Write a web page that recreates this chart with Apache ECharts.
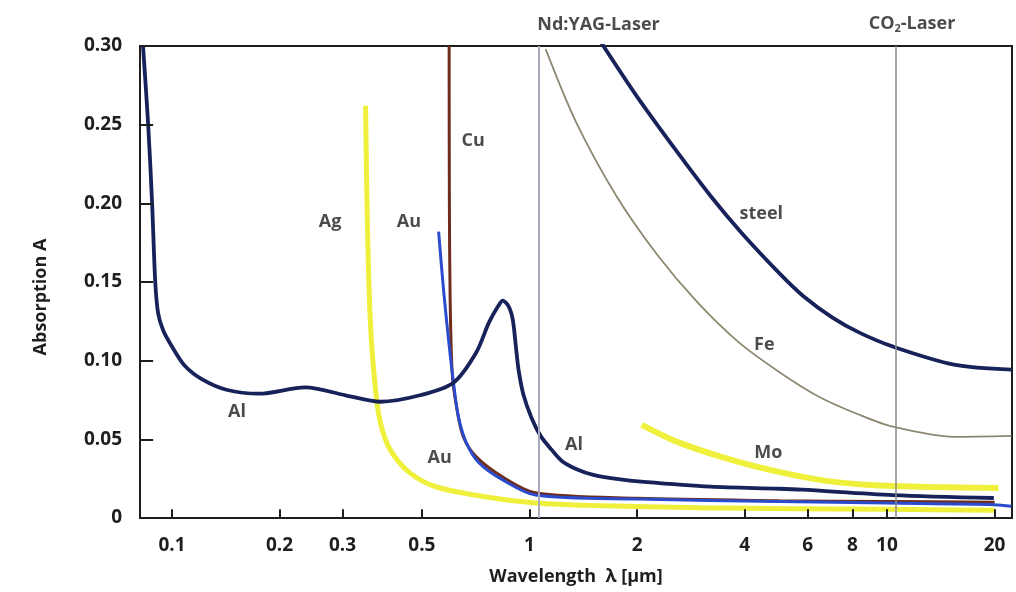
<!DOCTYPE html>
<html>
<head>
    <meta charset="utf-8">
    <script type="text/javascript" src="https://cdn.jsdelivr.net/npm/echarts@6.0.0/dist/echarts.min.js"></script>
</head>
<body style="margin: 0; background: #fff">
<div id="container" style="width: 1016px; height: 592px"></div>
<script type="text/javascript">
    // wavelength in µm, absorption A
    var wlAl = [0.083, 0.0858, 0.088, 0.0898, 0.0915, 0.0946, 0.1, 0.1086, 0.1219, 0.142, 0.175, 0.236, 0.306, 0.383, 0.494, 0.613, 0.709, 0.77, 0.816, 0.842, 0.875, 0.898, 0.915, 0.932, 0.962, 1.013, 1.074, 1.154, 1.232, 1.35, 1.508, 1.752, 2.09, 3.21, 4.98, 5.78, 10.4, 19.9];
    var absAl = [0.300, 0.25, 0.20, 0.15, 0.13, 0.119, 0.109, 0.0968, 0.0879, 0.0815, 0.079, 0.083, 0.078, 0.0739, 0.078, 0.086, 0.105, 0.1242, 0.1344, 0.1382, 0.1344, 0.1261, 0.1102, 0.0943, 0.0783, 0.0637, 0.0522, 0.0433, 0.0363, 0.0312, 0.0274, 0.0248, 0.0229, 0.0199, 0.0186, 0.018, 0.0146, 0.0127];

    var wlAg = [0.348, 0.352, 0.359, 0.371, 0.383, 0.408, 0.463, 0.55, 0.756, 1.04, 1.5, 3, 10, 20];
    var absAg = [0.262, 0.188, 0.124, 0.0815, 0.0605, 0.0433, 0.0287, 0.0197, 0.0134, 0.0096, 0.008, 0.0065, 0.0055, 0.005];

    var wlAu = [0.557, 0.575, 0.594, 0.613, 0.633, 0.666, 0.723, 0.842, 1.04, 2, 5, 10, 20, 22.3];
    var absAu = [0.182, 0.145, 0.113, 0.086, 0.0643, 0.0478, 0.035, 0.0242, 0.0146, 0.012, 0.0105, 0.0095, 0.0085, 0.0075];

    var wlCu = [0.596, 0.597, 0.6, 0.608, 0.625, 0.653, 0.709, 0.842, 1.04, 2, 5, 10, 20];
    var absCu = [0.30, 0.20, 0.139, 0.092, 0.0707, 0.0516, 0.039, 0.026, 0.016, 0.0125, 0.011, 0.0105, 0.010];

    var wlSteel = [1.589, 1.997, 2.592, 3.215, 3.91, 4.98, 5.85, 7.04, 8.37, 10.4, 15.4, 22.3];
    var absSteel = [0.302, 0.268, 0.2325, 0.2045, 0.1815, 0.156, 0.1408, 0.1274, 0.1178, 0.1089, 0.0975, 0.0943];

    var wlFe = [1.11, 1.35, 1.752, 2.274, 2.952, 3.83, 4.98, 6.45, 8.37, 10.4, 15.4, 22.3];
    var absFe = [0.298, 0.2516, 0.2045, 0.1675, 0.137, 0.1121, 0.093, 0.0771, 0.0656, 0.058, 0.0516, 0.0522];

    var wlMo = [2.06, 2.59, 3.59, 4.98, 6.77, 8.95, 13.25, 20.5];
    var absMo = [0.0592, 0.0484, 0.0376, 0.0293, 0.0236, 0.021, 0.0197, 0.0191];

    // laser wavelengths
    var laserNames = ['Nd:YAG-Laser', 'CO{sub|2}-Laser'];
    var laserWl = [1.06, 10.6];

    // curve labels
    var tagNames = ['Al', 'Ag', 'Au', 'Cu', 'Au', 'Al', 'steel', 'Fe', 'Mo'];
    var tagWl = [0.152, 0.277, 0.46, 0.696, 0.561, 1.332, 4.45, 4.54, 4.66];
    var tagAbs = [0.0675, 0.1885, 0.1885, 0.2395, 0.038, 0.0465, 0.193, 0.110, 0.0414];

    var xTicks = [0.1, 0.2, 0.3, 0.5, 1, 2, 4, 6, 8, 10, 20];
    var yTicks = [0.05, 0.10, 0.15, 0.20, 0.25, 0.30];
    var xMin = 0.0814, xMax = 22.37;

    function zip(xs, ys) {
        var out = [];
        for (var i = 0; i < xs.length; i++) {
            out.push([xs[i], ys[i]]);
        }
        return out;
    }

    var font = 'Open Sans';
    var ink = '#1e1e1e';

    function curve(name, xs, ys, color, width) {
        return {
            name: name,
            type: 'line',
            data: zip(xs, ys),
            smooth: 0.3,
            showSymbol: false,
            lineStyle: {color: color, width: width},
            silent: true
        };
    }

    // inward tick strokes, as short marker segments in data space
    var tickUp = 0.0056;     // about 9px of the y scale
    var tickRight = 1.088;   // about 13px of the log x scale (factor)
    var tickLines = [];
    xTicks.forEach(function (v) {
        tickLines.push([{coord: [v, 0]}, {coord: [v, tickUp]}]);
    });
    yTicks.forEach(function (v) {
        tickLines.push([{coord: [xMin, v]}, {coord: [xMin * tickRight, v]}]);
    });

    var tagData = [];
    for (var i = 0; i < tagNames.length; i++) {
        tagData.push({name: tagNames[i], value: [tagWl[i], tagAbs[i]]});
    }
    var laserData = [];
    for (var j = 0; j < laserWl.length; j++) {
        laserData.push({name: laserNames[j], value: [laserWl[j], 0.30]});
    }

    var myChart = echarts.init(document.getElementById('container'), null, {renderer: 'canvas'});

    var option = {
        animation: false,
        backgroundColor: '#fff',
        grid: {
            left: 140, right: 4, top: 46, bottom: 74,
            show: true, borderColor: ink, borderWidth: 2
        },
        xAxis: {
            type: 'log',
            min: xMin,
            max: xMax,
            name: 'Wavelength  λ [µm]',
            nameLocation: 'middle',
            nameGap: 50,
            nameTextStyle: {fontFamily: font, fontSize: 18, fontWeight: 'bold', color: ink},
            axisLine: {lineStyle: {color: ink, width: 2}},
            axisTick: {show: false},
            axisLabel: {
                customValues: xTicks,
                margin: 18,
                fontFamily: font, fontSize: 19, fontWeight: 'bold', color: ink,
                formatter: function (v) { return String(v); }
            },
            splitLine: {show: false},
            minorTick: {show: false}
        },
        yAxis: {
            type: 'value',
            min: 0,
            max: 0.30,
            interval: 0.05,
            name: 'Absorption A',
            nameLocation: 'middle',
            nameGap: 90,
            nameTextStyle: {fontFamily: font, fontSize: 18, fontWeight: 'bold', color: ink, padding: [0, 30, 0, 0]},
            axisLine: {show: true, lineStyle: {color: ink, width: 2}},
            axisTick: {show: false},
            axisLabel: {
                margin: 18,
                fontFamily: font, fontSize: 19, fontWeight: 'bold', color: ink,
                formatter: function (v) { return v === 0 ? '0' : v.toFixed(2); }
            },
            splitLine: {show: false}
        },
        series: [
            {
                name: 'lasers',
                type: 'line',
                data: [],
                silent: true,
                markLine: {
                    symbol: 'none',
                    silent: true,
                    label: {show: false},
                    data: [
                        {xAxis: laserWl[0], lineStyle: {color: '#a9a9bd', width: 2, type: 'solid'}},
                        {xAxis: laserWl[1], lineStyle: {color: '#8a8a8a', width: 1.5, type: 'solid'}}
                    ]
                }
            },
            curve('Ag', wlAg, absAg, '#eef03c', 5),
            curve('Mo', wlMo, absMo, '#eef03c', 6),
            curve('Fe', wlFe, absFe, '#8e8872', 1.8),
            curve('Cu', wlCu, absCu, '#6e2c1c', 3),
            curve('Au', wlAu, absAu, '#2a4ccc', 3),
            curve('Al', wlAl, absAl, '#17215a', 3.8),
            curve('steel', wlSteel, absSteel, '#17215a', 3.8),
            {
                name: 'ticks',
                type: 'line',
                data: [],
                silent: true,
                z: 10,
                markLine: {
                    symbol: 'none',
                    silent: true,
                    label: {show: false},
                    lineStyle: {color: ink, width: 2, type: 'solid'},
                    data: tickLines
                }
            },
            {
                name: 'tags',
                type: 'scatter',
                data: tagData,
                symbolSize: 0,
                silent: true,
                label: {
                    show: true,
                    position: 'inside',
                    formatter: '{b}',
                    fontFamily: font, fontSize: 18, fontWeight: 'bold', color: ink
                }
            },
            {
                name: 'laserTags',
                type: 'scatter',
                data: laserData,
                symbolSize: 0,
                silent: true,
                label: {
                    show: true,
                    position: 'top',
                    distance: 12,
                    formatter: '{b}',
                    fontFamily: font, fontSize: 18, fontWeight: 'bold', color: ink,
                    rich: {
                        sub: {fontFamily: font, fontSize: 11, fontWeight: 'bold', color: ink, padding: [10, 0, 0, 0]}
                    }
                },
                labelLayout: function (params) {
                    return {dx: params.dataIndex === 0 ? 60 : 16};
                }
            }
        ]
    };

    myChart.setOption(option);
    window.addEventListener('resize', myChart.resize);
</script>
</body>
</html>
